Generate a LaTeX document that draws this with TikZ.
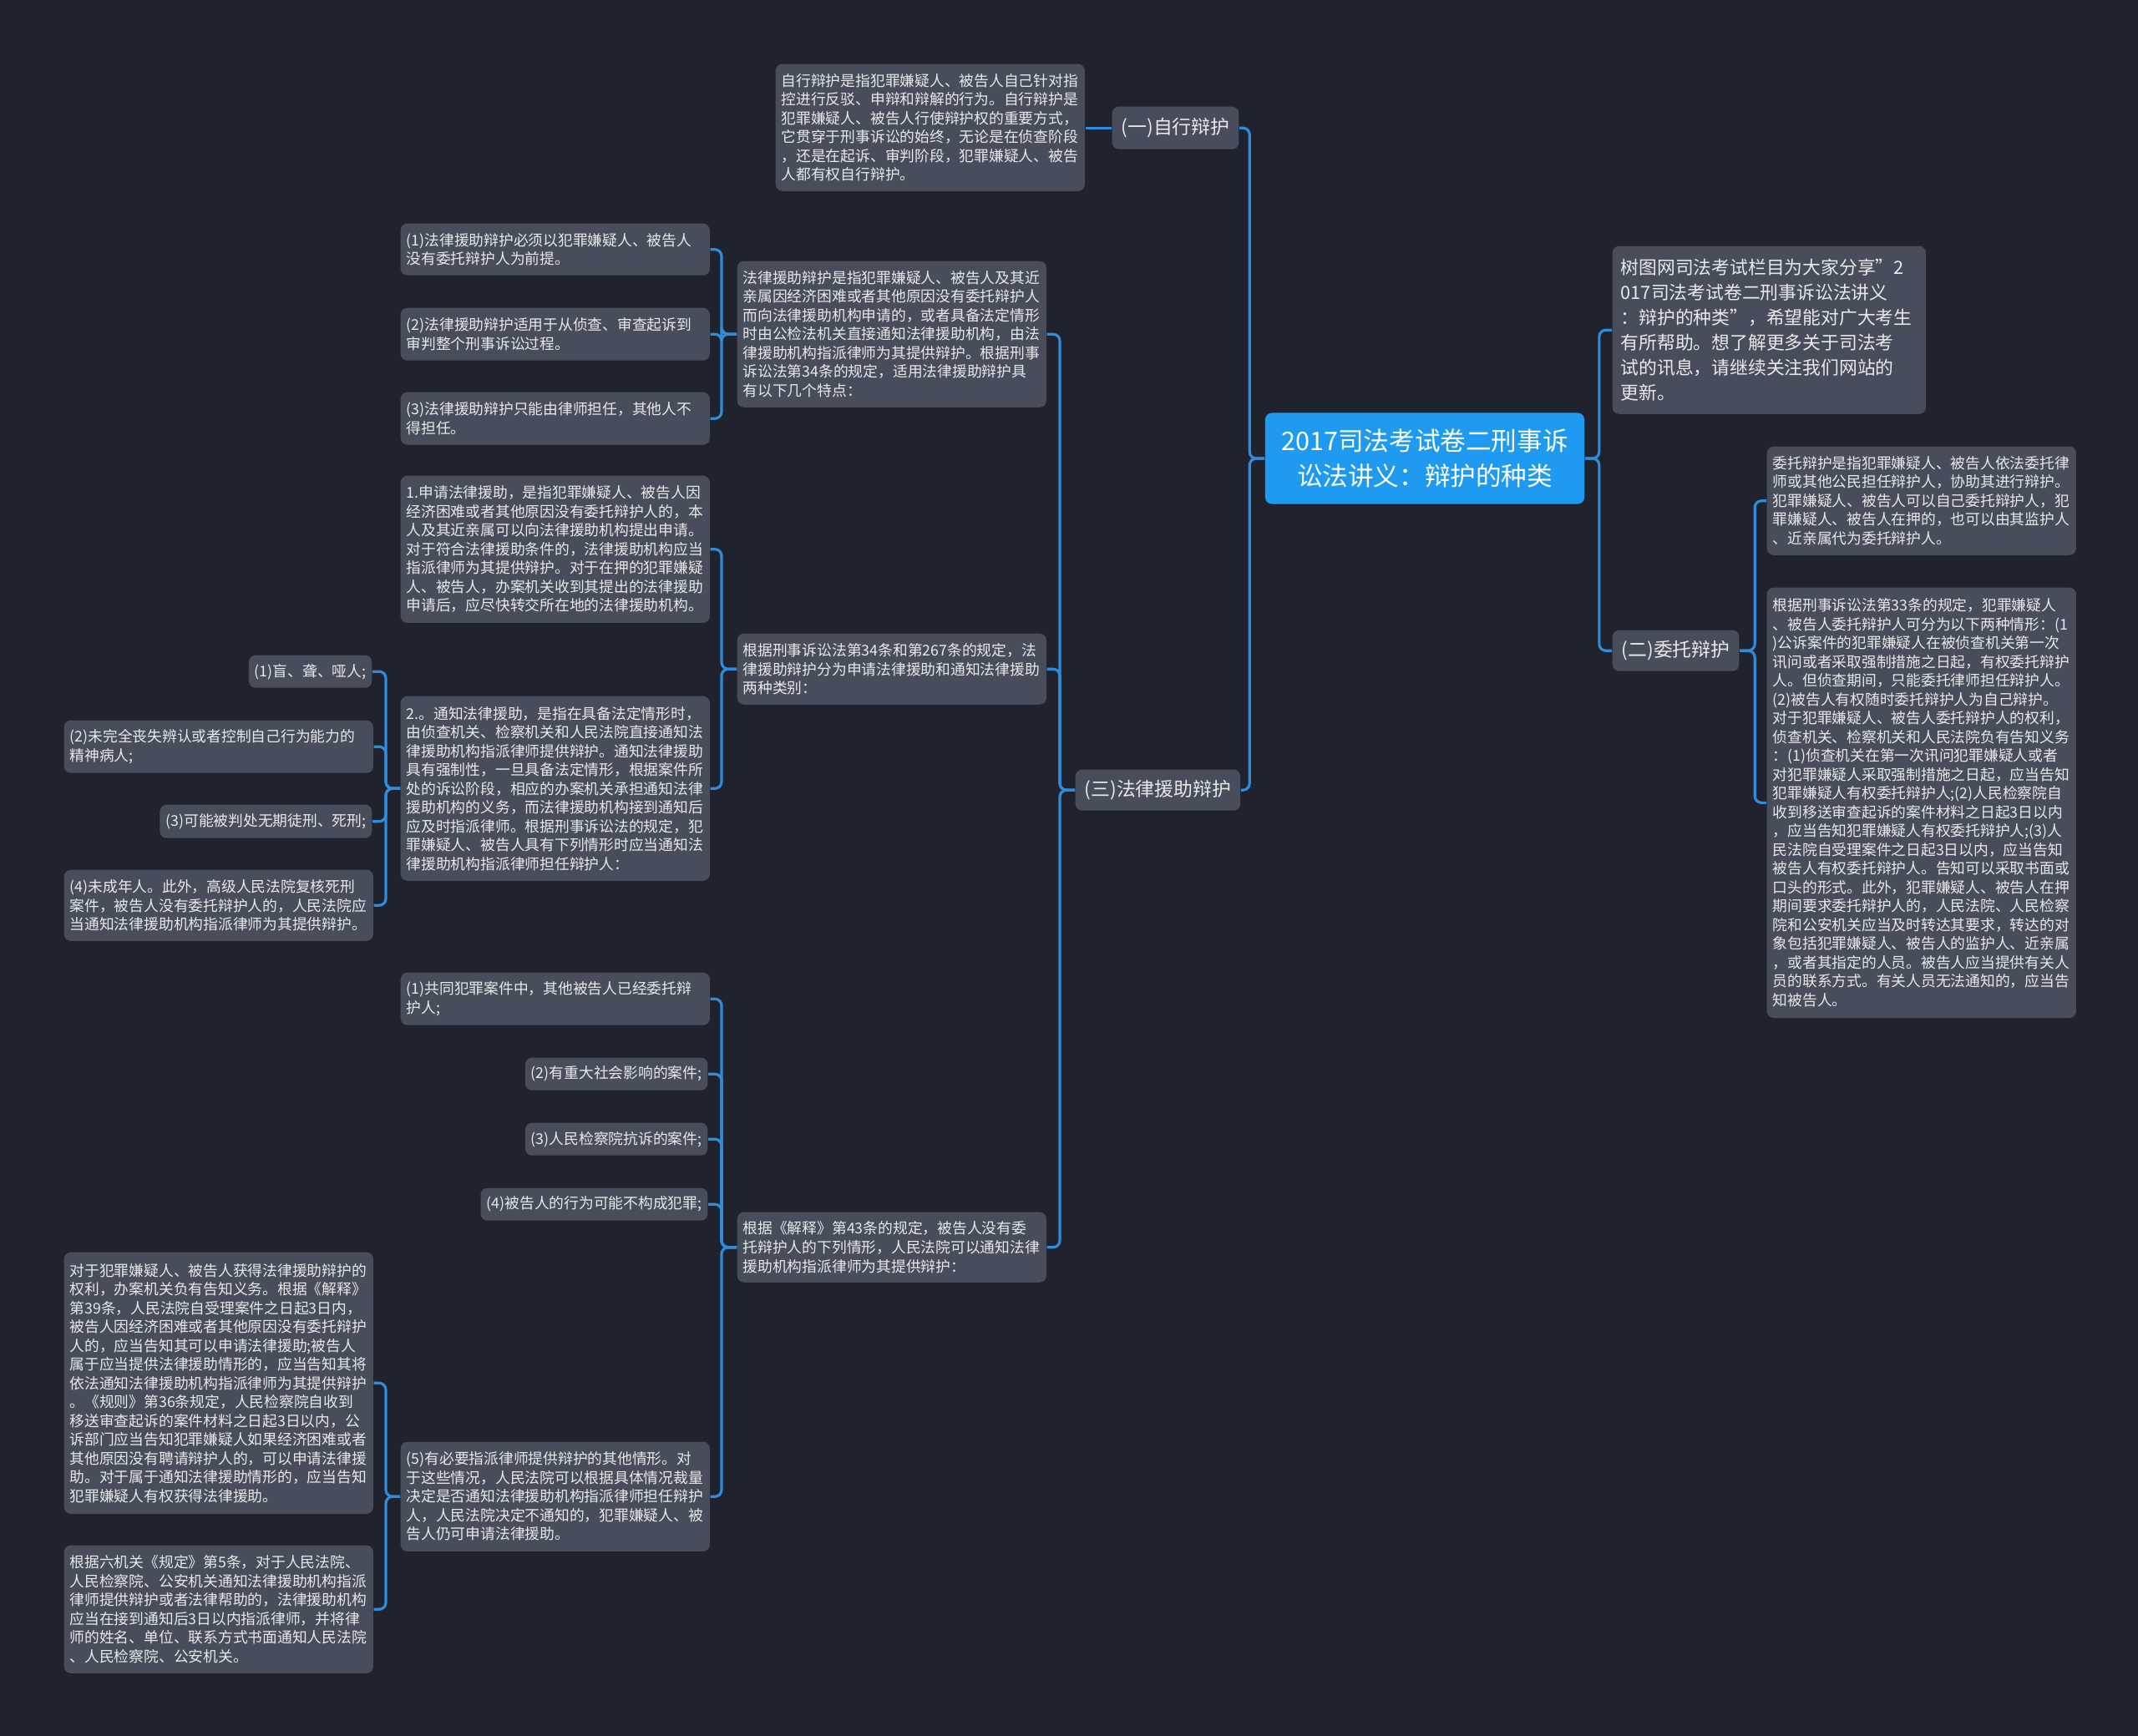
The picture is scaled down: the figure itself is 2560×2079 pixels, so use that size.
\documentclass[tikz,border=0pt]{standalone}
\usepackage{fontspec}
\setmainfont{Noto Sans CJK SC}
\definecolor{bgc}{HTML}{20232E}
\definecolor{boxc}{HTML}{484D5B}
\definecolor{linkc}{HTML}{2F8CDB}
\definecolor{rootc}{HTML}{1E9BF0}
\definecolor{txtc}{HTML}{E8E9EC}
\begin{document}
\begin{tikzpicture}[x=0.01cm, y=-0.01cm,
    leaf/.style={fill=boxc, text=txtc, rounded corners=0.08cm, font=\fontsize{5.05pt}{6.4pt}\selectfont, inner xsep=0.07cm, inner ysep=0.05cm, align=left},
    wide/.style={leaf, text width=3.56cm, anchor=north west},
    short/.style={leaf, anchor=north east, minimum height=0.39cm},
    topic/.style={fill=boxc, text=txtc, rounded corners=0.08cm, font=\fontsize{6.5pt}{8.5pt}\selectfont, inner xsep=0.11cm, anchor=north west},
    link/.style={draw=linkc, line width=0.9pt, rounded corners=0.08cm}]
    \useasboundingbox (0,0) rectangle (2560,2079);
    \fill[bgc] (0,0) rectangle (2560,2079);

    % centre
    \node[fill=rootc, text=white, rounded corners=0.08cm, minimum width=3.82cm, minimum height=1.09cm, align=center, font=\fontsize{8.7pt}{11.9pt}\selectfont] (root) at (1706,549) {2017司法考试卷二刑事诉\\讼法讲义：辩护的种类};
    \node[topic, text width=3.55cm, inner xsep=0.10cm, minimum height=2.01cm, align=left, font=\fontsize{6.2pt}{8.5pt}\selectfont] (intro) at (1930,294) {树图网司法考试栏目为大家分享"2\\017司法考试卷二刑事诉讼法讲义\\：辩护的种类"，希望能对广大考生\\有所帮助。想了解更多关于司法考\\试的讯息，请继续关注我们网站的\\更新。};

    % first level
    \node[topic, minimum height=0.51cm] (zixing) at (1331,127) {(一)自行辩护};
    \node[topic, minimum height=0.49cm] (weituo) at (1930,754) {(二)委托辩护};
    \node[topic, minimum height=0.49cm] (yuanzhu) at (1287,921) {(三)法律援助辩护};

    % (一)
    \node[wide, minimum height=1.52cm] (zxtext) at (928,76) {自行辩护是指犯罪嫌疑人、被告人自己针对指\\控进行反驳、申辩和辩解的行为。自行辩护是\\犯罪嫌疑人、被告人行使辩护权的重要方式，\\它贯穿于刑事诉讼的始终，无论是在侦查阶段\\，还是在起诉、审判阶段，犯罪嫌疑人、被告\\人都有权自行辩护。};

    % (二)
    \node[wide, minimum height=1.30cm] (wtone) at (2115,534) {委托辩护是指犯罪嫌疑人、被告人依法委托律\\师或其他公民担任辩护人，协助其进行辩护。\\犯罪嫌疑人、被告人可以自己委托辩护人，犯\\罪嫌疑人、被告人在押的，也可以由其监护人\\、近亲属代为委托辩护人。};
    \node[wide, minimum height=5.15cm] (wttwo) at (2115,703) {根据刑事诉讼法第33条的规定，犯罪嫌疑人\\、被告人委托辩护人可分为以下两种情形：(1\\)公诉案件的犯罪嫌疑人在被侦查机关第一次\\讯问或者采取强制措施之日起，有权委托辩护\\人。但侦查期间，只能委托律师担任辩护人。\\(2)被告人有权随时委托辩护人为自己辩护。\\对于犯罪嫌疑人、被告人委托辩护人的权利，\\侦查机关、检察机关和人民法院负有告知义务\\：(1)侦查机关在第一次讯问犯罪嫌疑人或者\\对犯罪嫌疑人采取强制措施之日起，应当告知\\犯罪嫌疑人有权委托辩护人;(2)人民检察院自\\收到移送审查起诉的案件材料之日起3日以内\\，应当告知犯罪嫌疑人有权委托辩护人;(3)人\\民法院自受理案件之日起3日以内，应当告知\\被告人有权委托辩护人。告知可以采取书面或\\口头的形式。此外，犯罪嫌疑人、被告人在押\\期间要求委托辩护人的，人民法院、人民检察\\院和公安机关应当及时转达其要求，转达的对\\象包括犯罪嫌疑人、被告人的监护人、近亲属\\，或者其指定的人员。被告人应当提供有关人\\员的联系方式。有关人员无法通知的，应当告\\知被告人。};

    % (三)
    \node[wide, minimum height=1.75cm] (fl) at (882,312) {法律援助辩护是指犯罪嫌疑人、被告人及其近\\亲属因经济困难或者其他原因没有委托辩护人\\而向法律援助机构申请的，或者具备法定情形\\时由公检法机关直接通知法律援助机构，由法\\律援助机构指派律师为其提供辩护。根据刑事\\诉讼法第34条的规定，适用法律援助辩护具\\有以下几个特点：};
    \node[wide, minimum height=0.62cm] (flone) at (479,267) {(1)法律援助辩护必须以犯罪嫌疑人、被告人\\没有委托辩护人为前提。};
    \node[wide, minimum height=0.63cm] (fltwo) at (479,368) {(2)法律援助辩护适用于从侦查、审查起诉到\\审判整个刑事诉讼过程。};
    \node[wide, minimum height=0.63cm] (flthree) at (479,469) {(3)法律援助辩护只能由律师担任，其他人不\\得担任。};

    \node[wide, minimum height=0.85cm] (lb) at (882,758) {根据刑事诉讼法第34条和第267条的规定，法\\律援助辩护分为申请法律援助和通知法律援助\\两种类别：};
    \node[wide, minimum height=1.76cm] (sq) at (479,569) {1.申请法律援助，是指犯罪嫌疑人、被告人因\\经济困难或者其他原因没有委托辩护人的，本\\人及其近亲属可以向法律援助机构提出申请。\\对于符合法律援助条件的，法律援助机构应当\\指派律师为其提供辩护。对于在押的犯罪嫌疑\\人、被告人，办案机关收到其提出的法律援助\\申请后，应尽快转交所在地的法律援助机构。};
    \node[wide, minimum height=2.21cm] (tz) at (479,833) {2.。通知法律援助，是指在具备法定情形时，\\由侦查机关、检察机关和人民法院直接通知法\\律援助机构指派律师提供辩护。通知法律援助\\具有强制性，一旦具备法定情形，根据案件所\\处的诉讼阶段，相应的办案机关承担通知法律\\援助机构的义务，而法律援助机构接到通知后\\应及时指派律师。根据刑事诉讼法的规定，犯\\罪嫌疑人、被告人具有下列情形时应当通知法\\律援助机构指派律师担任辩护人：};
    \node[short] (tzone) at (446,784) {(1)盲、聋、哑人;};
    \node[wide, minimum height=0.63cm] (tztwo) at (76,862) {(2)未完全丧失辨认或者控制自己行为能力的\\精神病人;};
    \node[short, minimum height=0.40cm] (tzthree) at (446,963) {(3)可能被判处无期徒刑、死刑;};
    \node[wide, minimum height=0.85cm] (tzfour) at (76,1041) {(4)未成年人。此外，高级人民法院复核死刑\\案件，被告人没有委托辩护人的，人民法院应\\当通知法律援助机构指派律师为其提供辩护。};

    \node[wide, minimum height=0.84cm] (js) at (882,1451) {根据《解释》第43条的规定，被告人没有委\\托辩护人的下列情形，人民法院可以通知法律\\援助机构指派律师为其提供辩护：};
    \node[wide, minimum height=0.63cm] (jsone) at (479,1164) {(1)共同犯罪案件中，其他被告人已经委托辩\\护人;};
    \node[short] (jstwo) at (848,1266) {(2)有重大社会影响的案件;};
    \node[short] (jsthree) at (848,1344) {(3)人民检察院抗诉的案件;};
    \node[short] (jsfour) at (848,1422) {(4)被告人的行为可能不构成犯罪;};
    \node[wide, minimum height=1.31cm] (jsfive) at (479,1726) {(5)有必要指派律师提供辩护的其他情形。对\\于这些情况，人民法院可以根据具体情况裁量\\决定是否通知法律援助机构指派律师担任辩护\\人，人民法院决定不通知的，犯罪嫌疑人、被\\告人仍可申请法律援助。};
    \node[wide, minimum height=3.13cm] (gzone) at (76,1499) {对于犯罪嫌疑人、被告人获得法律援助辩护的\\权利，办案机关负有告知义务。根据《解释》\\第39条，人民法院自受理案件之日起3日内，\\被告人因经济困难或者其他原因没有委托辩护\\人的，应当告知其可以申请法律援助;被告人\\属于应当提供法律援助情形的，应当告知其将\\依法通知法律援助机构指派律师为其提供辩护\\。《规则》第36条规定，人民检察院自收到\\移送审查起诉的案件材料之日起3日以内，公\\诉部门应当告知犯罪嫌疑人如果经济困难或者\\其他原因没有聘请辩护人的，可以申请法律援\\助。对于属于通知法律援助情形的，应当告知\\犯罪嫌疑人有权获得法律援助。};
    \node[wide, minimum height=1.53cm] (gztwo) at (76,1850) {根据六机关《规定》第5条，对于人民法院、\\人民检察院、公安机关通知法律援助机构指派\\律师提供辩护或者法律帮助的，法律援助机构\\应当在接到通知后3日以内指派律师，并将律\\师的姓名、单位、联系方式书面通知人民法院\\、人民检察院、公安机关。};

    % connectors
    \foreach \c in {intro, weituo}
        \draw[link] (root.east) -- ++(17,0) |- (\c.west);
    \foreach \c in {zixing, yuanzhu}
        \draw[link] (root.west) -- ++(-18,0) |- (\c.east);
    \draw[link] (zixing.west) -- (zxtext.east |- zixing.west);
    \foreach \c in {wtone, wttwo}
        \draw[link] (weituo.east) -- ++(18,0) |- (\c.west);
    \foreach \c in {fl, lb, js}
        \draw[link] (yuanzhu.west) -- ++(-18,0) |- (\c.east);
    \foreach \c in {flone, fltwo, flthree}
        \draw[link] (fl.west) -- ++(-18,0) |- (\c.east);
    \foreach \c in {sq, tz}
        \draw[link] (lb.west) -- ++(-18,0) |- (\c.east);
    \foreach \c in {tzone, tztwo, tzthree, tzfour}
        \draw[link] (tz.west) -- ++(-17,0) |- (\c.east);
    \foreach \c in {jsone, jstwo, jsthree, jsfour, jsfive}
        \draw[link] (js.west) -- ++(-18,0) |- (\c.east);
    \foreach \c in {gzone, gztwo}
        \draw[link] (jsfive.west) -- ++(-17,0) |- (\c.east);
\end{tikzpicture}
\end{document}
